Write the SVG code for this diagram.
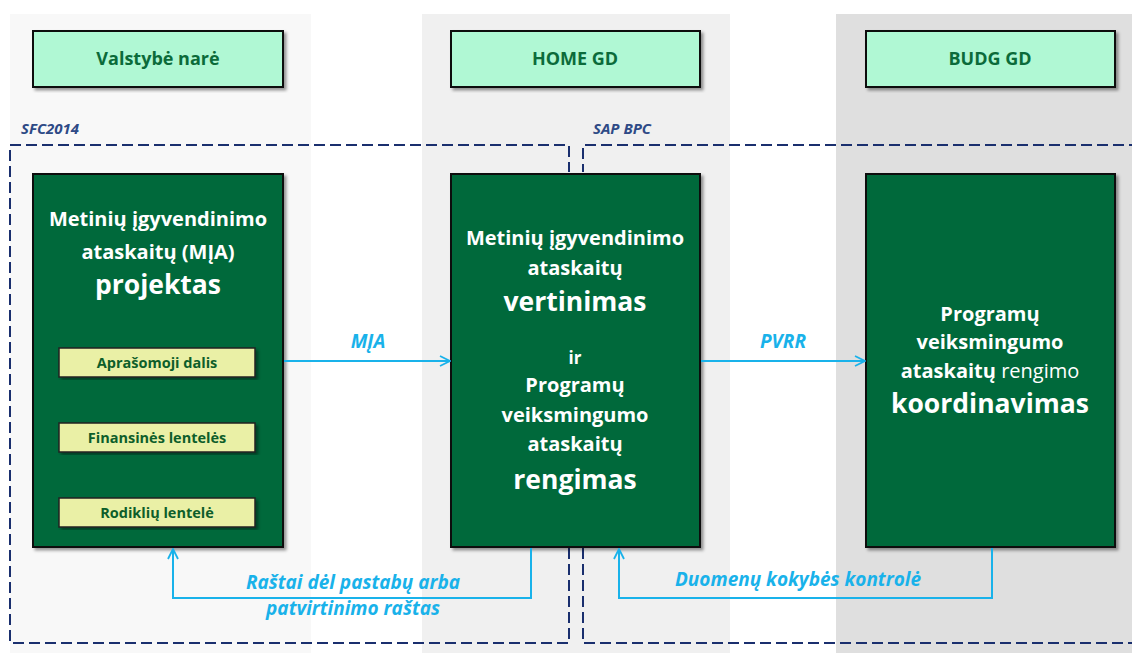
<svg xmlns="http://www.w3.org/2000/svg" width="1132" height="653" viewBox="0 0 1132 653">
  <defs>
    <filter id="shadow" x="-5%" y="-5%" width="115%" height="115%">
      <feDropShadow dx="2.5" dy="2.5" stdDeviation="1.5" flood-color="#000" flood-opacity="0.4"/>
    </filter>
    <marker id="openArrow" viewBox="0 0 12 12" refX="11" refY="6" markerWidth="12" markerHeight="12" markerUnits="userSpaceOnUse" orient="auto">
      <path d="M1,1 L11,6 L1,11" fill="none" stroke="#19b2ea" stroke-width="1.8"/>
    </marker>
    <style>
      .lane-a { fill: #f8f8f8; }
      .lane-b { fill: #f0f0f0; }
      .lane-c { fill: #dfdfdf; }
      .head { fill: #b0f8d4; stroke: #111; stroke-width: 2; }
      .head-text { font-family: "Open Sans", "Liberation Sans", sans-serif; font-weight: bold; font-size: 18px; fill: #0b6b3a; text-anchor: middle; }
      .big { fill: #04693a; stroke: #111; stroke-width: 2; }
      .sub { fill: #eaf0a6; stroke: #222; stroke-width: 1.5; }
      .sub-text { font-family: "Open Sans", "Liberation Sans", sans-serif; font-weight: bold; font-size: 14.5px; fill: #0d5e2a; text-anchor: middle; }
      .w { font-family: "Open Sans", "Liberation Sans", sans-serif; font-weight: bold; fill: #fff; text-anchor: middle; }
      .m { font-size: 20px; }
      .l { font-size: 26.5px; }
      .s { font-size: 17px; }
      .thin { font-weight: normal; }
      .sys { fill: none; stroke: #1a2f6e; stroke-width: 2; stroke-dasharray: 11 5; }
      .sys-label { font-family: "Open Sans", "Liberation Sans", sans-serif; font-weight: bold; font-style: italic; font-size: 15px; fill: #2e4a86; }
      .flow { fill: none; stroke: #19b2ea; stroke-width: 2; }
      .flow-label { font-family: "Open Sans", "Liberation Sans", sans-serif; font-weight: bold; font-style: italic; font-size: 19px; fill: #19b2ea; text-anchor: middle; }
    </style>
  </defs>

  <rect width="1132" height="653" fill="#fff"/>

  <!-- swimlane backgrounds -->
  <rect class="lane-a" x="10" y="14" width="301" height="639"/>
  <rect class="lane-b" x="422" y="14" width="308" height="639"/>
  <rect class="lane-c" x="836" y="14" width="296" height="639"/>

  <!-- system boundaries -->
  <g id="systems">
    <path class="sys" d="M569,548 L569,643 L10,643 L10,145 L569,145 L569,172"/>
    <path class="sys" d="M1140,145 L583,145 L583,172"/>
    <path class="sys" d="M583,548 L583,643 L1140,643"/>
    <text class="sys-label" x="21" y="134">SFC2014</text>
    <text class="sys-label" x="593" y="134">SAP BPC</text>
  </g>

  <!-- lane headers -->
  <g id="header-valstybe">
    <rect class="head" x="33" y="31" width="250" height="56" filter="url(#shadow)"/>
    <text class="head-text" x="158" y="65">Valstybė narė</text>
  </g>
  <g id="header-home">
    <rect class="head" x="451" y="31" width="249" height="56" filter="url(#shadow)"/>
    <text class="head-text" x="575" y="65">HOME GD</text>
  </g>
  <g id="header-budg">
    <rect class="head" x="866" y="31" width="249" height="56" filter="url(#shadow)"/>
    <text class="head-text" x="990" y="65">BUDG GD</text>
  </g>

  <!-- process boxes -->
  <g id="node-projektas">
    <rect class="big" x="33" y="174" width="250" height="373" filter="url(#shadow)"/>
    <text class="w m" x="158" y="226">Metinių įgyvendinimo</text>
    <text class="w m" x="158" y="259">ataskaitų (MĮA)</text>
    <text class="w l" x="158" y="294">projektas</text>
    <g id="part-aprasomoji">
      <rect class="sub" x="59" y="348" width="196" height="29" filter="url(#shadow)"/>
      <text class="sub-text" x="157" y="368">Aprašomoji dalis</text>
    </g>
    <g id="part-finansines">
      <rect class="sub" x="59" y="423" width="196" height="29" filter="url(#shadow)"/>
      <text class="sub-text" x="157" y="443">Finansinės lentelės</text>
    </g>
    <g id="part-rodikliu">
      <rect class="sub" x="59" y="498" width="196" height="29" filter="url(#shadow)"/>
      <text class="sub-text" x="157" y="518">Rodiklių lentelė</text>
    </g>
  </g>

  <g id="node-vertinimas">
    <rect class="big" x="451" y="174" width="249" height="373" filter="url(#shadow)"/>
    <text class="w m" x="575" y="245">Metinių įgyvendinimo</text>
    <text class="w m" x="575" y="275">ataskaitų</text>
    <text class="w l" x="575" y="311">vertinimas</text>
    <text class="w s" x="575" y="364">ir</text>
    <text class="w m" x="575" y="392">Programų</text>
    <text class="w m" x="575" y="422">veiksmingumo</text>
    <text class="w m" x="575" y="451">ataskaitų</text>
    <text class="w l" x="575" y="489">rengimas</text>
  </g>

  <g id="node-koordinavimas">
    <rect class="big" x="866" y="174" width="249" height="373" filter="url(#shadow)"/>
    <text class="w m" x="990" y="321">Programų</text>
    <text class="w m" x="990" y="349">veiksmingumo</text>
    <text class="w m" x="990" y="378">ataskaitų <tspan class="thin">rengimo</tspan></text>
    <text class="w l" x="990" y="413">koordinavimas</text>
  </g>

  <!-- connectors -->
  <g id="connectors">
    <path class="flow" d="M284,361 L450,361" marker-end="url(#openArrow)"/>
    <text class="flow-label" x="368" y="348">MĮA</text>

    <path class="flow" d="M701,361 L865,361" marker-end="url(#openArrow)"/>
    <text class="flow-label" x="783" y="348">PVRR</text>

    <path class="flow" d="M531,548 L531,598 L173,598 L173,549" marker-end="url(#openArrow)"/>
    <text class="flow-label" x="353" y="589">Raštai dėl pastabų arba</text>
    <text class="flow-label" x="353" y="615">patvirtinimo raštas</text>

    <path class="flow" d="M992,548 L992,598 L619,598 L619,549" marker-end="url(#openArrow)"/>
    <text class="flow-label" x="798" y="586">Duomenų kokybės kontrolė</text>
  </g>
</svg>
